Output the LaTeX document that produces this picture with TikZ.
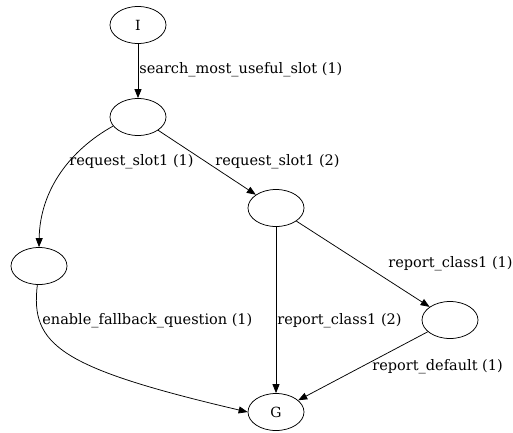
\documentclass[tikz,border=0pt]{standalone}
\usepackage{fontspec}
\setmainfont{DejaVu Serif}
\usetikzlibrary{shapes.geometric,arrows.meta,positioning}

\begin{document}
\begin{tikzpicture}[x=1pt, y=-1pt, line width=0.75pt,
    state/.style={draw, ellipse, minimum width=56pt, minimum height=37pt, inner sep=0pt, font=\fontsize{14}{16}\selectfont},
    edge/.style={-{Triangle[length=9pt, width=7pt]}},
    lbl/.style={anchor=west, inner sep=0pt, font=\fontsize{14.5}{16}\selectfont}]
    \useasboundingbox (0,0) rectangle (513,432);

    % states
    \node[state] (init) at (138,25) {I};
    \node[state] (ask) at (138,117) {};
    \node[state] (fallback) at (39,266) {};
    \node[state] (slot) at (276,208) {};
    \node[state] (cls) at (450,320) {};
    \node[state] (goal) at (276,412) {G};

    % transitions
    \draw[edge] (init) -- (ask);
    \draw[edge] (ask.200) .. controls (70,150) and (40,190) .. (fallback.north);
    \draw[edge] (ask) -- (slot);
    \draw[edge] (slot) -- (goal);
    \draw[edge] (slot) -- (cls);
    \draw[edge] (cls) -- (goal);
    \draw[edge] (fallback.265) .. controls (30,345) and (60,368) .. (goal.west);

    % labels
    \node[lbl] (l1) at (139,70) {search\_most\_useful\_slot (1)};
    \node[lbl] (l2) at (69,162) {request\_slot1 (1)};
    \node[lbl] (l3) at (215,162) {request\_slot1 (2)};
    \node[lbl] (l4) at (388,264) {report\_class1 (1)};
    \node[lbl] (l5) at (42,321) {enable\_fallback\_question (1)};
    \node[lbl] (l6) at (277,321) {report\_class1 (2)};
    \node[lbl] (l7) at (372,367) {report\_default (1)};
\end{tikzpicture}
\end{document}
